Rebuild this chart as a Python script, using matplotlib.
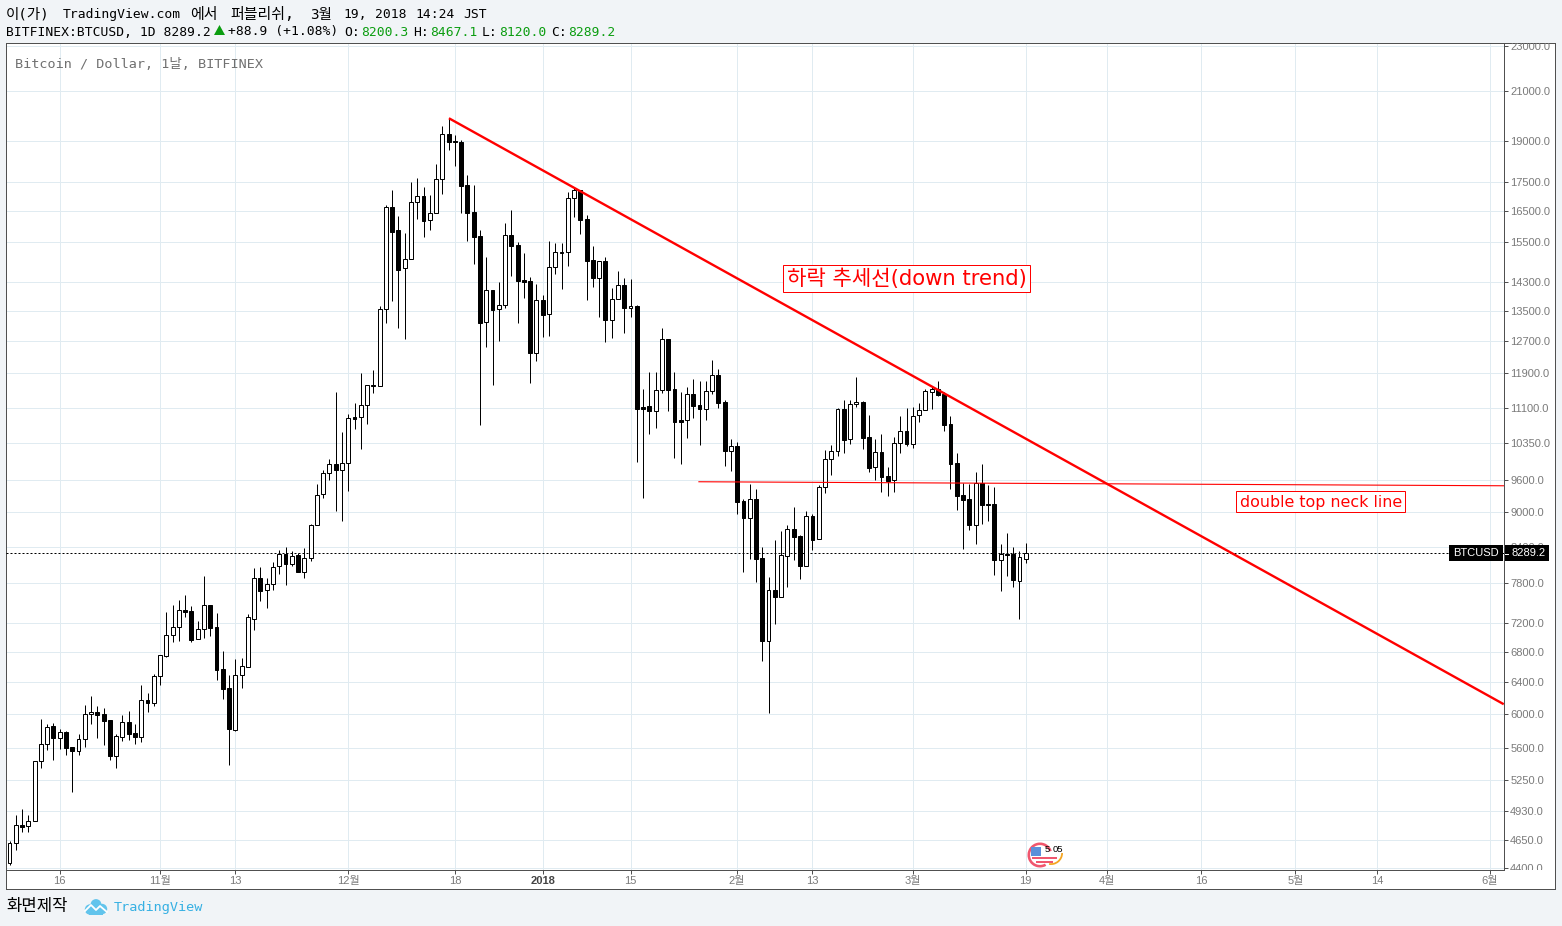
import matplotlib
matplotlib.use('Agg')
import matplotlib.pyplot as plt
from matplotlib.patches import Rectangle, Circle, Wedge, Polygon
from matplotlib.ticker import NullLocator
from matplotlib.transforms import Bbox, TransformedBbox

# daily candles, index 0 = 8 Oct 2017, index 162 = 19 Mar 2018
opens = [4440, 4623, 4797, 4784, 4832, 5453, 5642, 5851, 5718, 5780,
         5609, 5570, 5699, 5993, 6017, 5993, 5925, 5514, 5730, 5898,
         5772, 5730, 6164, 6135, 6469, 6743, 7026, 7140, 7392, 7377,
         6969, 7111, 7467, 7144, 6565, 6319, 5807, 6482, 6596, 7264,
         7884, 7691, 7785, 8072, 8270, 8105, 8253, 7985, 8203, 8766,
         9331, 9733, 9911, 9792, 9931, 10893, 10893, 11173, 11625, 11609,
         13537, 16622, 15870, 14702, 14970, 16790, 16994, 16192, 16422, 17585,
         19252, 18982, 18944, 17374, 16455, 15680, 13188, 14073, 13537, 13647,
         15710, 15408, 14359, 14330, 12406, 13785, 13402, 14731, 15171, 15184,
         16924, 17200, 16225, 14940, 14426, 14910, 13257, 13812, 14208, 13564,
         13620, 11114, 11144, 11039, 11501, 12752, 11531, 10834, 10827, 11417,
         11166, 11082, 11478, 11862, 11234, 10180, 10283, 9205, 8895, 9243,
         8208, 6945, 7696, 7588, 8246, 8700, 8579, 8077, 8933, 8522,
         9462, 10011, 10174, 11070, 10421, 11182, 11227, 10470, 9851, 10159,
         9680, 9596, 10339, 10597, 10331, 10937, 11047, 11469, 11524, 11417,
         10741, 9931, 9317, 9243, 8777, 9539, 9150, 9150, 8180, 8275,
         8275, 7841, 8200.3]
highs = [4645, 4895, 4954, 4895, 5453, 5937, 5878, 5890, 5819, 5795,
         5609, 5761, 6106, 6218, 6094, 6070, 5925, 5761, 5985, 6033,
         5878, 6357, 6255, 6500, 6749, 7363, 7467, 7542, 7618, 7452,
         7231, 7916, 7467, 7348, 6807, 6486, 6698, 6712, 7333, 8045,
         8061, 7884, 8138, 8341, 8386, 8324, 8286, 8369, 8784, 9526,
         9798, 10017, 11461, 10576, 10966, 11205, 11909, 11618, 11981, 13628,
         16699, 17210, 16333, 15784, 17490, 17631, 17315, 17038, 18135, 19576,
         19891, 19220, 19031, 17738, 17384, 15879, 15040, 14073, 14302, 16105,
         16531, 15500, 15162, 14445, 14245, 13932, 15532, 15471, 15471, 17141,
         17280, 17210, 16365, 15377, 14910, 15031, 14130, 14622, 14417, 14388,
         13655, 11531, 11933, 11933, 13038, 12752, 11933, 11461, 11571, 11766,
         11719, 11719, 12224, 12005, 11279, 10428, 10366, 9243, 9526, 9430,
         8391, 7900, 8510, 8666, 8771, 9095, 8596, 9022, 8969, 9506,
         10200, 10303, 11099, 11279, 11279, 11812, 11256, 10944, 10428, 10534,
         9857, 10470, 10922, 11099, 11121, 11211, 11531, 11578, 11719, 11461,
         10922, 10139, 9545, 9526, 9759, 9917, 9506, 9468, 8442, 8631,
         8391, 8324, 8467.1]
lows = [4428, 4561, 4733, 4733, 4832, 5380, 5578, 5467, 5589, 5522,
        5130, 5522, 5612, 5878, 5714, 5635, 5467, 5380, 5680, 5691,
        5646, 5668, 6021, 6094, 6357, 6726, 6931, 6945, 7289, 6931,
        6969, 6987, 7016, 6421, 6180, 5412, 5795, 6319, 6596, 7101,
        7527, 7422, 7696, 7948, 7778, 8082, 7985, 7884, 8164, 8766,
        9267, 9602, 9022, 8842, 9392, 10639, 10220, 10747, 11439, 11609,
        13170, 13765, 13038, 12752, 14970, 16235, 15658, 15879, 16422, 17073,
        18652, 18063, 16432, 15532, 14830, 10726, 12549, 11625, 12700, 13573,
        14476, 13170, 13848, 11672, 12200, 12804, 12830, 14533, 14101, 14770,
        16299, 15753, 13793, 14158, 13330, 12675, 12778, 13812, 12907, 13330,
        9957, 9261, 10533, 10661, 11439, 11032, 10037, 9917, 10449, 10878,
        10303, 10834, 11417, 11099, 9878, 9778, 8969, 7980, 8191, 7821,
        6672, 6006, 7187, 7588, 7743, 8175, 7868, 8077, 8341, 8522,
        9354, 9700, 10077, 10139, 10324, 11121, 10220, 9759, 9602, 9374,
        9298, 9374, 10139, 10283, 10241, 10791, 11047, 11076, 11371, 10597,
        9430, 9040, 8358, 8683, 8442, 8790, 8842, 7932, 7681, 7916,
        7743, 7259, 8120.0]
closes = [4623, 4794, 4781, 4832, 5453, 5642, 5839, 5718, 5780, 5604,
          5570, 5699, 5993, 6017, 5989, 5917, 5514, 5734, 5898, 5764,
          5730, 6164, 6135, 6469, 6749, 7026, 7140, 7388, 7367, 6959,
          7111, 7462, 7130, 6552, 6306, 5819, 6482, 6601, 7285, 7879,
          7681, 7785, 8065, 8270, 8105, 8237, 7985, 8203, 8766, 9312,
          9733, 9911, 9792, 9931, 10871, 10863, 11173, 11618, 11602, 13537,
          16622, 15825, 14651, 14970, 16790, 16994, 16180, 16422, 17585, 19252,
          18967, 18944, 17360, 16442, 15665, 13178, 14065, 13510, 13647, 15710,
          15377, 14330, 14310, 12406, 13785, 13383, 14731, 15184, 15193, 16924,
          17200, 16212, 14928, 14426, 14910, 13257, 13812, 14208, 13581, 13620,
          11076, 11082, 11039, 11501, 12744, 11508, 10791, 10797, 11410, 11144,
          11076, 11478, 11855, 11211, 10180, 10277, 9187, 8895, 9237, 8191,
          6945, 7691, 7588, 8253, 8695, 8562, 8077, 8926, 8510, 9462,
          10011, 10174, 11070, 10407, 11182, 11227, 10449, 9837, 10153, 9661,
          9583, 10339, 10590, 10324, 10915, 11047, 11478, 11524, 11394, 10726,
          9917, 9298, 9224, 8771, 9539, 9132, 9132, 8175, 8270, 8263,
          7852, 8220, 8289.2]

price_ticks = [23000, 21000, 19000, 17500, 16500, 15500, 14300, 13500, 12700,
               11900, 11100, 10350, 9600, 9000, 8400, 7800, 7200, 6800, 6400,
               6000, 5600, 5250, 4930, 4650, 4400]
date_ticks = [8, 24, 36, 54, 71, 85, 99, 116, 128, 144, 162, 175, 190, 205, 218, 236]
date_labels = ['16', '11월', '13', '12월', '18', '2018', '15', '2월', '13', '3월',
               '19', '4월', '16', '5월', '14', '6월']

trend_x = [70.05, 238.2]
trend_y = [19890, 6116]
neck_x = [109.9, 238.2]
neck_y = [9570, 9493]
last_price = 8289.2

W, H = 1562, 926
BG = '#f1f4f7'
GRID = '#e0ebf1'
FRAME = '#505050'
GRAY = '#7a7a7a'
GREEN = '#0b9d10'
PX = 0.72  # one pixel in points
MONO = ['DejaVu Sans Mono', 'Noto Sans CJK KR']
plt.rcParams['font.family'] = ['Liberation Sans', 'Noto Sans CJK KR']


def px_rect(l, t, r, b):
    return [l / W, 1 - b / H, (r - l) / W, (b - t) / H]


fig = plt.figure(figsize=(W / 100, H / 100), dpi=100, facecolor=BG)

# outer white frame holding both axis strips
back = fig.add_axes(px_rect(6, 43, 1555, 889))
back.set_xticks([])
back.set_yticks([])
for s in back.spines.values():
    s.set_color(FRAME)
    s.set_linewidth(PX)

ax = fig.add_axes(px_rect(6, 43, 1504, 870), zorder=2)
ax.set_yscale('log')
ax.set_xlim(-0.558, 238.24)
ax.set_ylim(4381, 23142)
ax.set_axisbelow(True)
ax.set_yticks(price_ticks)
ax.set_yticklabels(['%.1f' % p for p in price_ticks])
ax.yaxis.set_minor_locator(NullLocator())
ax.yaxis.tick_right()
ax.set_xticks(date_ticks)
ax.set_xticklabels(date_labels)
ax.grid(True, color=GRID, lw=PX)
ax.tick_params(axis='both', length=2.6, width=PX, color=FRAME, labelcolor=GRAY,
               labelsize=8.0, pad=1.8)
for s in ax.spines.values():
    s.set_color(FRAME)
    s.set_linewidth(PX)

# labels that run past the frame get cut, same as the original
clip = TransformedBbox(Bbox([[0, 1 - 870 / H], [1, 1 - 43 / H]]), fig.transFigure)
for tick in ax.yaxis.get_major_ticks():
    tick.label2.set_clip_on(True)
    tick.label2.set_clip_box(clip)

for lbl in ax.get_xticklabels():
    if lbl.get_text() == '2018':
        lbl.set_fontweight('bold')
        lbl.set_color('#444444')

# candles
xs = list(range(len(opens)))
ax.vlines(xs, lows, highs, color='black', lw=PX, zorder=3)
for x, o, c in zip(xs, opens, closes):
    up = c >= o
    ax.bar(x, abs(c - o), bottom=min(o, c), width=0.62, zorder=4,
           facecolor='white' if up else 'black', edgecolor='black', linewidth=PX)

ax.axhline(last_price, color='black', lw=PX, ls=(0, (2, 2)), zorder=3)
ax.plot(trend_x, trend_y, color='#ff0000', lw=1.7, zorder=5, solid_capstyle='butt')
ax.plot(neck_x, neck_y, color='#ff0000', lw=0.8, zorder=5)

ax.text(0.0058, 0.9742, 'Bitcoin / Dollar, 1날, BITFINEX', transform=ax.transAxes,
        family=MONO, fontsize=9.7, color='#707070', va='center', ha='left', zorder=6)

# page chrome drawn in pixels on top of everything
ov = fig.add_axes([0, 0, 1, 1], zorder=5)
ov.set_xlim(0, W)
ov.set_ylim(H, 0)
ov.axis('off')


def txt(x, y, s, color='black', size=9.4, family=None, **kw):
    ov.text(x, y, s, color=color, fontsize=size, family=family or MONO,
            va='center', ha=kw.pop('ha', 'left'), **kw)


# first header line: korean runs are set a bit larger to fill their two cells
for x, s, size in [(6, '이(가)', 10.4), (63, 'TradingView.com', 9.4), (190, '에서', 10.8),
                   (230, '퍼블리쉬,', 10.8), (310, '3월', 10.4), (343, '19,', 9.4),
                   (375, '2018', 9.4), (415, '14:24', 9.4), (463, 'JST', 9.4)]:
    txt(x, 14.5, s, size=size)

txt(6, 32, 'BITFINEX:BTCUSD, 1D 8289.2')
ov.add_patch(Polygon([[214, 35], [225, 35], [219.5, 25]], color=GREEN, lw=0))
txt(228, 32, '+88.9 (+1.08%)')
for x, name, val in [(344, 'O:', '8200.3'), (413, 'H:', '8467.1'),
                     (482, 'L:', '8120.0'), (551, 'C:', '8289.2')]:
    txt(x, 32, name)
    txt(x + 17, 32, val, color=GREEN)

# annotation boxes
ov.add_patch(Rectangle((783, 265), 247, 27, fc='white', ec='#ff0000', lw=PX))
txt(787, 279, '하락 추세선(down trend)', color='#ff0000', size=15.2,
    family=['DejaVu Sans', 'Noto Sans CJK KR'])
ov.add_patch(Rectangle((1236, 491), 169, 21, fc='white', ec='#ff0000', lw=PX))
txt(1240, 502, 'double top neck line', color='#ff0000', size=11.4,
    family=['DejaVu Sans', 'Noto Sans CJK KR'])

# last price tags
ov.add_patch(Rectangle((1449, 545), 54, 16, fc='black', ec='none'))
ov.add_patch(Rectangle((1505, 545), 44, 16, fc='black', ec='none'))
ov.plot([1505, 1508], [553.5, 553.5], color='white', lw=PX)
sans = ['Liberation Sans', 'Noto Sans CJK KR']
txt(1453, 553, 'BTCUSD', color='white', size=8.0, family=sans)
txt(1511, 553, '8289.2', color='white', size=8.0, family=sans)

# earnings marker
ov.add_patch(Wedge((1040, 855), 12.5, 60, 340, width=2.6, color='#f0566e', lw=0))
ov.add_patch(Wedge((1051, 853), 12, 0, 100, width=1.8, color='#f5a623', lw=0))
ov.add_patch(Rectangle((1031, 847), 10, 9, fc='#5b8fd9', ec='none'))
ov.add_patch(Rectangle((1032, 856.5), 25, 2.4, fc='#f0566e', ec='none'))
ov.add_patch(Rectangle((1036, 860.5), 17, 2.2, fc='#f0566e', ec='none'))
txt(1045, 849, '5', size=6.8, family=sans)
txt(1053, 849, '05', size=6.8, family=sans)

# footer
txt(6, 906.5, '화면제작', size=12, family=sans)
CLOUD = '#62c4ec'
for cx, cy, r in [(90, 909.5, 5.2), (96, 904.5, 5.4), (102, 909, 5.2)]:
    ov.add_patch(Circle((cx, cy), r, color=CLOUD, lw=0))
ov.add_patch(Rectangle((89, 908), 14, 6.7, color=CLOUD, lw=0))
ov.plot([85, 91, 96, 100, 107], [911, 905, 910, 906, 912], color='white', lw=1.3)
txt(114, 907, 'TradingView', color='#36b0e3', size=9.7)

fig.savefig('out.png', dpi=100, facecolor=BG)
